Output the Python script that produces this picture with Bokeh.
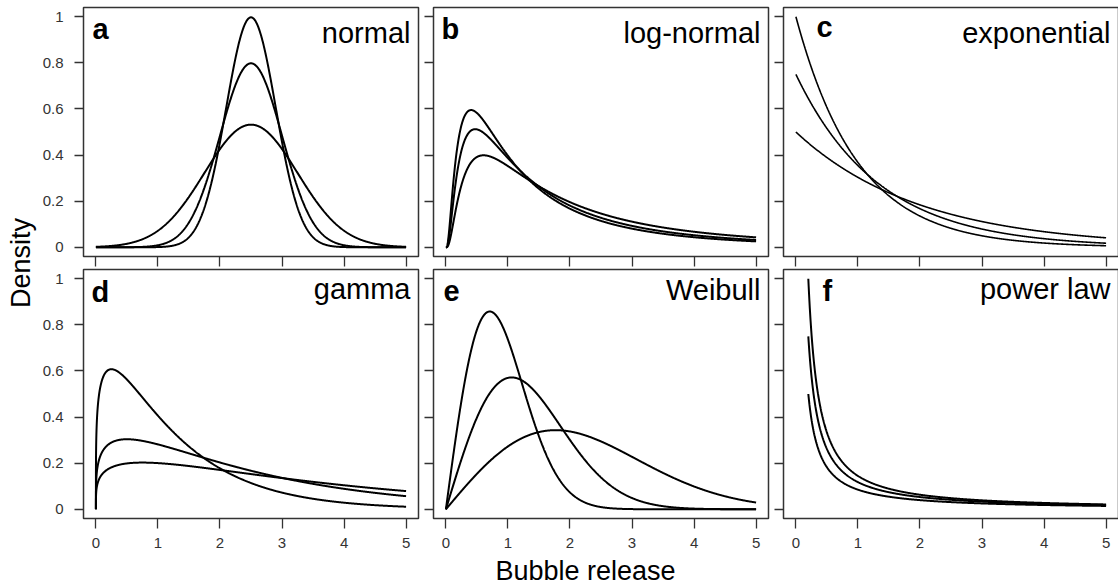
import math
import numpy as np
from bokeh.plotting import figure
from bokeh.layouts import row, column
from bokeh.models import Range1d, FixedTicker, Label
from bokeh.embed import file_html
from bokeh.resources import INLINE

# ---------------- data ----------------
panel_letters = ["a", "b", "c", "d", "e", "f"]
panel_names = ["normal", "log-normal", "exponential", "gamma", "Weibull", "power law"]
x_ticks = [0, 1, 2, 3, 4, 5]
x_tick_labels = ["0", "1", "2", "3", "4", "5"]
y_ticks = [0, 0.2, 0.4, 0.6, 0.8, 1]
y_tick_labels = ["0", "0.2", "0.4", "0.6", "0.8", "1"]
x_axis_title = "Bubble release"
y_axis_title = "Density"

# distribution parameters of the three curves in each panel
normal_mean = [2.5, 2.5, 2.5]
normal_sd = [0.4, 0.5, 0.75]
lognormal_meanlog = [0.1, 0.25, 0.5]
lognormal_sdlog = [1.0, 1.0, 1.0]
exponential_rate = [1.0, 0.75, 0.5]
gamma_shape = [1.25, 1.25, 1.25]
gamma_scale = [1.0, 2.0, 3.0]
weibull_shape = [2.0, 2.0, 2.0]
weibull_scale = [1.0, 1.5, 2.5]
powerlaw_xmin = [0.2, 0.2, 0.2]
powerlaw_alpha = [1.2, 1.15, 1.1]
x_max = 5.0

# ---------------- density curves ----------------
xg = np.concatenate([np.linspace(0, 0.1, 201), np.linspace(0.1, x_max, 981)[1:]])


def normal_pdf(x, m, s):
    return np.exp(-(x - m) ** 2 / (2 * s * s)) / (s * math.sqrt(2 * math.pi))


def lognormal_pdf(x, m, s):
    y = np.zeros_like(x)
    k = x > 0
    y[k] = np.exp(-(np.log(x[k]) - m) ** 2 / (2 * s * s)) / (x[k] * s * math.sqrt(2 * math.pi))
    return y


def exp_pdf(x, r):
    return r * np.exp(-r * x)


def gamma_pdf(x, k, th):
    return x ** (k - 1) * np.exp(-x / th) / (math.gamma(k) * th ** k)


def weibull_pdf(x, k, lam):
    return (k / lam) * (x / lam) ** (k - 1) * np.exp(-(x / lam) ** k)


def power_pdf(x, xmin, a):
    return (a - 1) / xmin * (x / xmin) ** (-a)


curves = []
curves.append([(xg, normal_pdf(xg, m, s)) for m, s in zip(normal_mean, normal_sd)])
curves.append([(xg, lognormal_pdf(xg, m, s)) for m, s in zip(lognormal_meanlog, lognormal_sdlog)])
curves.append([(xg, exp_pdf(xg, r)) for r in exponential_rate])
curves.append([(xg, gamma_pdf(xg, k, t)) for k, t in zip(gamma_shape, gamma_scale)])
curves.append([(xg, weibull_pdf(xg, k, l)) for k, l in zip(weibull_shape, weibull_scale)])
pw = []
for xm, a in zip(powerlaw_xmin, powerlaw_alpha):
    xp = np.linspace(xm, x_max, 800)
    pw.append((xp, power_pdf(xp, xm, a)))
curves.append(pw)

# ---------------- layout / style ----------------
FW, FH = 335, 249
XR = (-0.2, 5.2)
YR = (-0.04, 1.04)
PXX = FW / (XR[1] - XR[0])
PXY = FH / (YR[1] - YR[0])
FONT = "Liberation Sans"
GREY = "#333333"
W0 = 39
letter_dx = [9, 8, 33, 8, 10, 39]
letter_mid = [21, 21, 19, 22, 21, 21]
name_mid = [25, 25, 25, 19, 20, 19]
line_w = [2, 2, 1.6, 2, 2, 2]

borders = {
    0: dict(min_border_left=43, min_border_right=2),
    1: dict(min_border_left=13, min_border_right=2),
    2: dict(min_border_left=13, min_border_right=1),
}


def make_panel(i):
    r, c = divmod(i, 3)
    kw = dict(borders[c])
    if r == 0:
        kw.update(min_border_top=7, min_border_bottom=11)
    else:
        kw.update(min_border_top=2, min_border_bottom=37)
    p = figure(frame_width=FW, frame_height=FH, x_range=Range1d(*XR), y_range=Range1d(*YR),
               output_backend="svg", toolbar_location=None, **kw)
    p.grid.visible = False
    p.background_fill_color = "white"
    p.border_fill_color = "white"
    p.outline_line_color = GREY
    p.outline_line_width = 1.5

    xa = p.xaxis[0]
    xa.ticker = FixedTicker(ticks=x_ticks)
    xa.major_label_overrides = dict(zip(x_ticks, x_tick_labels))
    ya = p.yaxis[0]
    ya.ticker = FixedTicker(ticks=y_ticks)
    ya.major_label_overrides = dict(zip(y_ticks, y_tick_labels))
    for ax in (xa, ya):
        ax.axis_line_color = None
        ax.minor_tick_line_color = None
        ax.major_tick_in = 0
        ax.major_tick_line_color = GREY
        ax.major_tick_line_width = 1.3
        ax.major_label_text_font = FONT
        ax.major_label_text_font_size = "15px"
        ax.major_label_text_color = GREY
    xa.major_tick_out = 10
    ya.major_tick_out = 9
    if r == 1:
        xa.major_label_standoff = 9
    else:
        xa.major_label_text_color = None
        xa.major_label_standoff = 0
    if c == 0:
        ya.major_label_standoff = 11
    else:
        ya.major_label_text_color = None
        ya.major_label_standoff = 0

    for xs, ys in curves[i]:
        p.line(xs, ys, line_color="black", line_width=line_w[i])

    p.add_layout(Label(x=XR[0] + letter_dx[i] / PXX, y=YR[1] - letter_mid[i] / PXY,
                       text=panel_letters[i], text_font=FONT, text_font_size="29px",
                       text_font_style="bold", text_align="left", text_baseline="middle",
                       text_color="black"))
    p.add_layout(Label(x=XR[1] - 8 / PXX, y=YR[1] - name_mid[i] / PXY,
                       text=panel_names[i], text_font=FONT, text_font_size="29px",
                       text_align="right", text_baseline="middle", text_color="black"))
    return p


panels = [make_panel(i) for i in range(6)]

H_TOT = 586
yl = figure(width=W0, height=H_TOT, x_range=Range1d(0, W0), y_range=Range1d(0, H_TOT),
            min_border=0, output_backend="svg", toolbar_location=None)
yl.axis.visible = False
yl.grid.visible = False
yl.outline_line_color = None
yl.add_layout(Label(x=20, y=H_TOT - 262.5, text=y_axis_title, angle=math.pi / 2,
                    text_align="center", text_baseline="middle", text_font=FONT,
                    text_font_size="27px", text_color="black"))

# strip under the bottom row that carries the x-axis title
H_LAB = 31
WL = 1118 - W0
xl = figure(width=WL, height=H_LAB, x_range=Range1d(0, WL), y_range=Range1d(0, H_LAB),
            min_border=0, output_backend="svg", toolbar_location=None)
xl.axis.visible = False
xl.grid.visible = False
xl.outline_line_color = None
xl.add_layout(Label(x=585 - W0, y=16, text=x_axis_title, text_align="center",
                    text_baseline="middle", text_font=FONT, text_font_size="27px",
                    text_color="black"))

layout = row(yl, column(row(*panels[:3]), row(*panels[3:]), xl))

with open("out.html", "w") as f:
    f.write(file_html(layout, INLINE))
